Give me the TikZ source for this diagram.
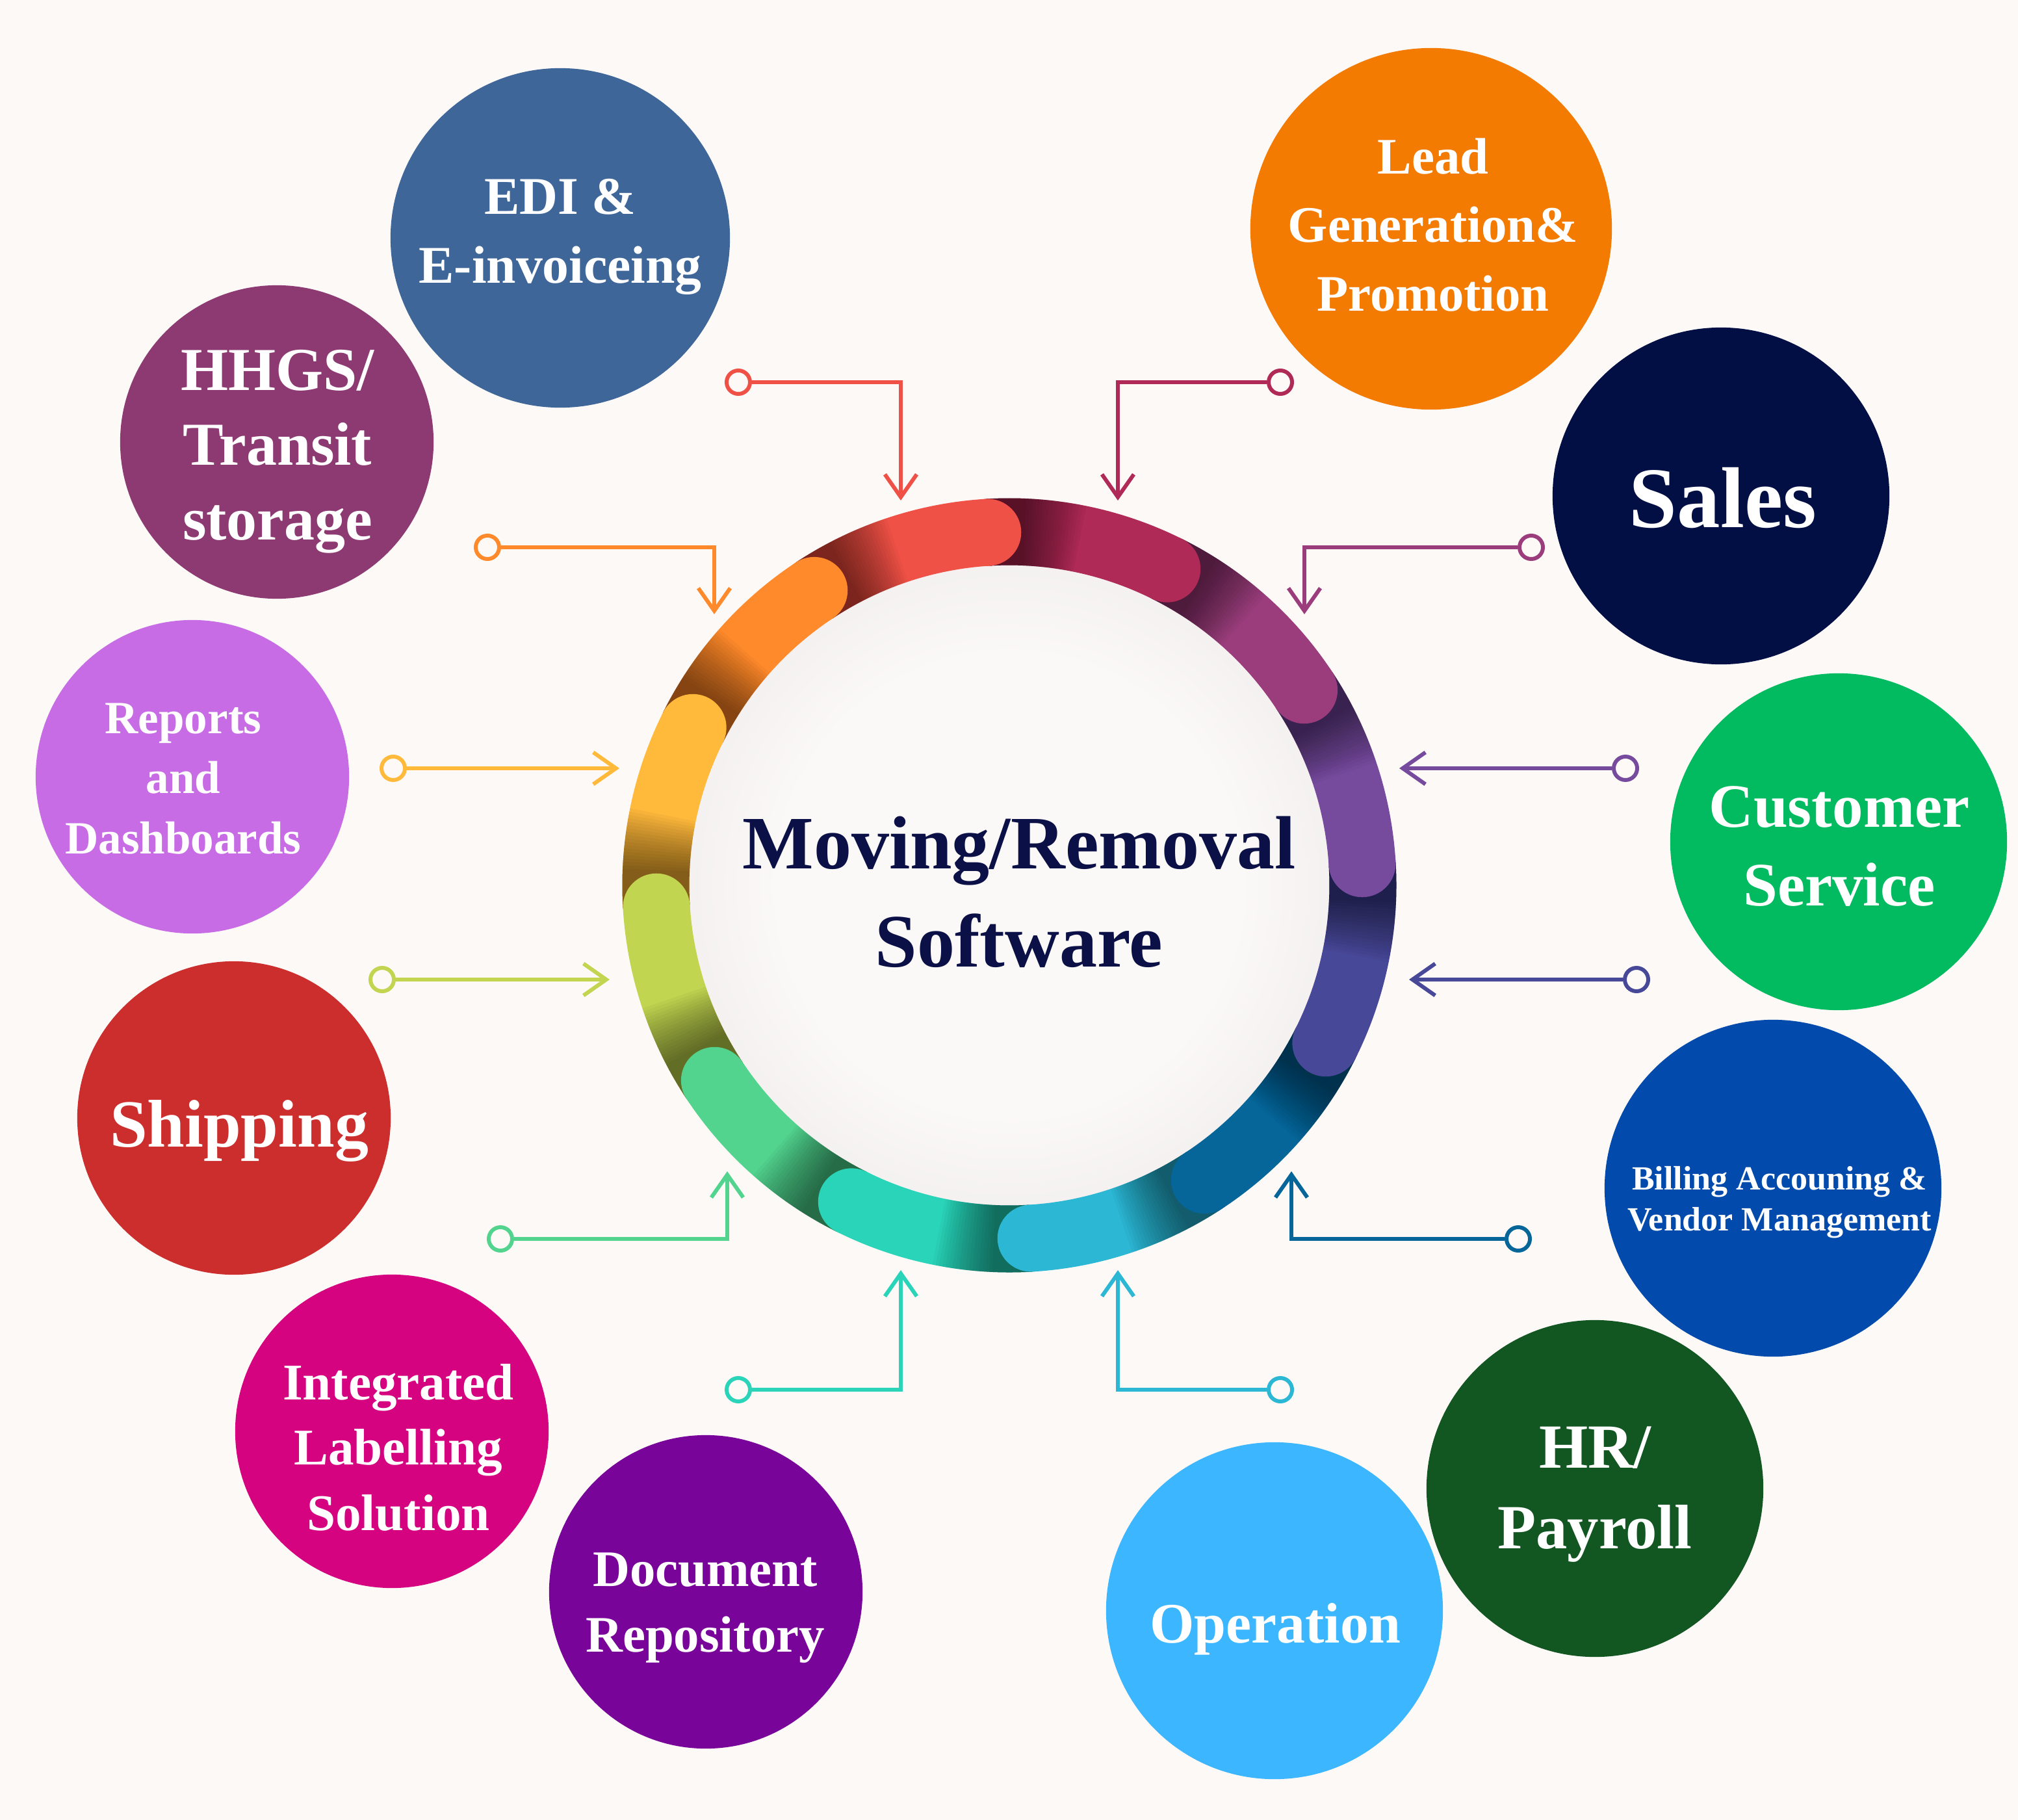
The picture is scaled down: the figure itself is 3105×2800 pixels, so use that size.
\documentclass[tikz,border=0pt]{standalone}
\usepackage{fontspec}
\setmainfont{Liberation Serif}
\usetikzlibrary{arrows.meta}

\definecolor{paper}{HTML}{FDF9F7}
\definecolor{navy}{HTML}{0B1146}
\definecolor{hubmid}{HTML}{FBF9F8}
\definecolor{hubsoft}{HTML}{EAE7E6}
\definecolor{hubring}{HTML}{D6D2D1}
\definecolor{hubedge}{HTML}{C0BCBB}
% ring colours
\definecolor{segred}{HTML}{F05146}
\definecolor{segcrimson}{HTML}{AF2A56}
\definecolor{segplum}{HTML}{9B3D7C}
\definecolor{segpurple}{HTML}{764B9E}
\definecolor{segindigo}{HTML}{484899}
\definecolor{segteal}{HTML}{06669A}
\definecolor{segcyan}{HTML}{2CB7D5}
\definecolor{segturq}{HTML}{2AD4B9}
\definecolor{seggreen}{HTML}{52D38E}
\definecolor{seglime}{HTML}{C1D551}
\definecolor{segyellow}{HTML}{FFB93B}
\definecolor{segorange}{HTML}{FF8A2B}
% bubble colours
\definecolor{ediblue}{HTML}{3E6699}
\definecolor{hhgsplum}{HTML}{8D3A73}
\definecolor{reporchid}{HTML}{C86CE5}
\definecolor{shipred}{HTML}{CB2E2D}
\definecolor{labelpink}{HTML}{D60381}
\definecolor{docviolet}{HTML}{790499}
\definecolor{opsky}{HTML}{3BB6FF}
\definecolor{hrgreen}{HTML}{125622}
\definecolor{billblue}{HTML}{024BAD}
\definecolor{custgreen}{HTML}{02BB60}
\definecolor{salesnavy}{HTML}{010F45}
\definecolor{leadorange}{HTML}{F37B01}

\pgfdeclareradialshading{hubshade}{\pgfpoint{0bp}{0bp}}{%
  color(0bp)=(hubmid); color(18bp)=(hubmid); color(34bp)=(hubsoft);
  color(44bp)=(hubring); color(50bp)=(hubedge)}

\newcommand{\bsz}[2]{\fontsize{#1}{#2}\selectfont\bfseries}

\begin{document}
\begin{tikzpicture}[x=0.01cm,y=-0.01cm,
  bubble/.style={circle,fill=#1,inner sep=0pt},
  btext/.style={text=white,align=center,anchor=base},
  dot/.style={circle,draw=#1,fill=paper,line width=1.7pt,minimum size=0.36cm,inner sep=0pt},
  link/.style={draw=#1,line width=1.7pt,-{Straight Barb[length=0.35cm,width=0.49cm]}},
  seg/.style={line width=1.03cm,#1}]
\useasboundingbox (0,0) rectangle (3105,2800);
\fill[paper] (0,0) rectangle (3105,2800);

% hub
\coordinate (hub) at (1553,1362);
\shade[shading=hubshade] (hub) circle[radius=493];
\foreach \e/\c in {266.5/segred,236.5/segorange,206.5/segyellow,176.5/seglime,
  146.5/seggreen,116.5/segturq,86.5/segcyan,56.5/segteal,26.5/segindigo,
  -3.5/segpurple,-33.5/segplum,-63.5/segcrimson}{
  \draw[seg=\c] (hub) ++(\e-30:544) arc[start angle=\e-30,end angle=\e,radius=544];
  \foreach \d in {6,6.5,...,15}
    \draw[seg=black,opacity=0.032] (hub) ++(\e-30:544) arc[start angle=\e-30,end angle=\e-30+\d,radius=544];
  \fill[\c] (hub) ++(\e:544) circle[radius=51.5];
}
\fill[segred] (hub) ++(266.5:544) circle[radius=51.5];
\node[font=\bsz{33}{42.7},text=navy,align=center,anchor=base] (title) at (1568,1487) {Moving/Removal\\Software};

% bubbles
\node[bubble=ediblue,minimum size=5.22cm] (edi) at (862,366) {};
\node[bubble=hhgsplum,minimum size=4.82cm] (hhgs) at (426,680) {};
\node[bubble=reporchid,minimum size=4.82cm] (rep) at (296,1195) {};
\node[bubble=shipred,minimum size=4.82cm] (ship) at (360,1720) {};
\node[bubble=labelpink,minimum size=4.82cm] (label) at (603,2202) {};
\node[bubble=docviolet,minimum size=4.82cm] (doc) at (1086,2449) {};
\node[bubble=opsky,minimum size=5.18cm] (ops) at (1961,2478) {};
\node[bubble=hrgreen,minimum size=5.18cm] (hr) at (2454,2290) {};
\node[bubble=billblue,minimum size=5.18cm] (bill) at (2728,1828) {};
\node[bubble=custgreen,minimum size=5.18cm] (cust) at (2829,1295) {};
\node[bubble=salesnavy,minimum size=5.18cm] (sales) at (2648,763) {};
\node[bubble=leadorange,minimum size=5.56cm] (lead) at (2202,352) {};

\node[btext,font=\bsz{23.2}{29.9}] (ediT) at (862,435) {EDI \&\\E-invoiceing};
\node[btext,font=\bsz{26.7}{32.7}] (hhgsT) at (427,830) {HHGS/\\Transit\\storage};
\node[btext,font=\bsz{20.2}{26.2}] (repT) at (282,1313) {Reports\\and\\Dashboards};
\node[btext,font=\bsz{29.5}{35}] (shipT) at (368,1764) {Shipping};
\node[btext,font=\bsz{22.5}{28.5}] (labelT) at (613,2354) {Integrated\\Labelling\\Solution};
\node[btext,font=\bsz{22.4}{28.7}] (docT) at (1085,2541) {Document\\Repository};
\node[btext,font=\bsz{25}{30}] (opsT) at (1962,2527) {Operation};
\node[btext,font=\bsz{27.5}{35}] (hrT) at (2454,2382) {HR/\\Payroll};
\node[btext,font=\bsz{14.8}{17.9}] (billT) at (2738,1893) {Billing Accouning \&\\Vendor Management};
\node[btext,font=\bsz{27}{34.4}] (custT) at (2830,1393) {Customer\\Service};
\node[btext,font=\bsz{37.8}{44}] (salesT) at (2651,811) {Sales};
\node[btext,font=\bsz{22.4}{29.9}] (leadT) at (2205,478) {Lead\\Generation\&\\Promotion};

% connectors
\node[dot=segred] (dEdi) at (1136,588) {};
\coordinate (tEdi) at (1386,770);
\draw[link=segred] (dEdi) -| (tEdi);
\node[dot=segcrimson] (dLead) at (1970,588) {};
\coordinate (tLead) at (1720,770);
\draw[link=segcrimson] (dLead) -| (tLead);
\node[dot=segorange] (dHhgs) at (750,842) {};
\coordinate (tHhgs) at (1099,945);
\draw[link=segorange] (dHhgs) -| (tHhgs);
\node[dot=segplum] (dSales) at (2356,842) {};
\coordinate (tSales) at (2007,945);
\draw[link=segplum] (dSales) -| (tSales);
\node[dot=segyellow] (dRep) at (605,1182) {};
\coordinate (tRep) at (953,1182);
\draw[link=segyellow] (dRep) -- (tRep);
\node[dot=segpurple] (dCust) at (2501,1182) {};
\coordinate (tCust) at (2153,1182);
\draw[link=segpurple] (dCust) -- (tCust);
\node[dot=seglime] (dShip) at (588,1507) {};
\coordinate (tShip) at (938,1507);
\draw[link=seglime] (dShip) -- (tShip);
\node[dot=segindigo] (dBill) at (2518,1507) {};
\coordinate (tBill) at (2168,1507);
\draw[link=segindigo] (dBill) -- (tBill);
\node[dot=seggreen] (dLabel) at (770,1906) {};
\coordinate (tLabel) at (1119,1802);
\draw[link=seggreen] (dLabel) -| (tLabel);
\node[dot=segteal] (dHr) at (2336,1906) {};
\coordinate (tHr) at (1987,1802);
\draw[link=segteal] (dHr) -| (tHr);
\node[dot=segturq] (dDoc) at (1136,2138) {};
\coordinate (tDoc) at (1386,1954);
\draw[link=segturq] (dDoc) -| (tDoc);
\node[dot=segcyan] (dOps) at (1970,2138) {};
\coordinate (tOps) at (1720,1954);
\draw[link=segcyan] (dOps) -| (tOps);
\end{tikzpicture}
\end{document}
